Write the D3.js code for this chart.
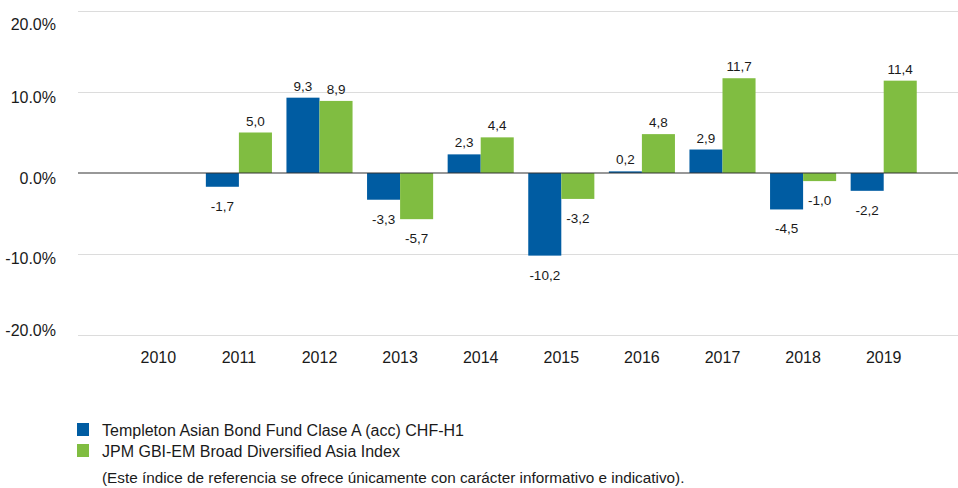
<!DOCTYPE html>
<html><head><meta charset="utf-8">
<script src="https://cdn.jsdelivr.net/npm/d3@7"></script>
<style>
body{margin:0;background:#fff;}
svg text{font-family:"Liberation Sans",Arial,sans-serif;fill:#1a1a1a;}
</style></head>
<body>
<svg id="c" width="958" height="488"></svg>
<script>
const years = ["2010","2011","2012","2013","2014","2015","2016","2017","2018","2019"];
const fund = [null,-1.7,9.3,-3.3,2.3,-10.2,0.2,2.9,-4.5,-2.2];
const index = [null,5.0,8.9,-5.7,4.4,-3.2,4.8,11.7,-1.0,11.4];
const yTicks = [20,10,0,-10,-20];
const seriesNames = ["Templeton Asian Bond Fund Clase A (acc) CHF-H1","JPM GBI-EM Broad Diversified Asia Index"];
const note = "(Este índice de referencia se ofrece únicamente con carácter informativo e indicativo).";
const colors = ["#005ca2","#80bd41"];

const svg = d3.select("#c");
const plotL = 78, plotR = 958;
const x = d3.scaleBand().domain(years).range([118,924]).paddingInner(0.18).paddingOuter(0.09);
const xs = d3.scaleBand().domain([0,1]).range([0,x.bandwidth()]);
const y = d3.scaleLinear().domain([-20,20]).range([335,11]);
const fmt = v => v.toFixed(1);

// gridlines
svg.append("g").selectAll("line").data(yTicks.filter(d=>d!==0)).join("line")
  .attr("x1",plotL).attr("x2",plotR).attr("y1",d=>y(d)+0.5).attr("y2",d=>y(d)+0.5)
  .attr("stroke","#dcdcdc").attr("stroke-width",1);

// y labels
const dyMap = {"20":19,"10":11,"0":11,"-10":10,"-20":1};
svg.append("g").selectAll("text").data(yTicks).join("text")
  .attr("x",56).attr("y",d=>y(d)+dyMap[d])
  .attr("text-anchor","end").attr("font-size",16)
  .text(d=>fmt(d)+"%");

// bars
const series = [fund,index];
series.forEach((vals,si)=>{
  const data = years.map((yr,i)=>({yr,v:vals[i]})).filter(d=>d.v!==null);
  svg.append("g").selectAll("rect").data(data).join("rect")
    .attr("x",d=>x(d.yr)+xs(si))
    .attr("width",xs.bandwidth())
    .attr("y",d=>y(Math.max(0,d.v)))
    .attr("height",d=>Math.abs(y(d.v)-y(0)))
    .attr("fill",colors[si]);
  svg.append("g").selectAll("text").data(data).join("text")
    .attr("x",d=>x(d.yr)+xs(si)+xs.bandwidth()/2)
    .attr("y",d=>d.v>=0 ? y(d.v)-7 : y(d.v)+24)
    .attr("text-anchor","middle").attr("font-size",13.5)
    .text(d=>fmt(d.v).replace(".",","));
});

// zero line
svg.append("line").attr("x1",plotL).attr("x2",plotR).attr("y1",y(0)).attr("y2",y(0))
  .attr("stroke","#333").attr("stroke-width",1.2);

// x labels
svg.append("g").selectAll("text").data(years).join("text")
  .attr("x",d=>x(d)+x.bandwidth()/2).attr("y",363)
  .attr("text-anchor","middle").attr("font-size",16).text(d=>d);

// legend
const lg = svg.append("g");
seriesNames.forEach((n,i)=>{
  lg.append("rect").attr("x",77).attr("y",423+i*21).attr("width",12).attr("height",13).attr("fill",colors[i]);
  lg.append("text").attr("x",102).attr("y",436+i*21).attr("font-size",16).text(n);
});
lg.append("text").attr("x",102).attr("y",483).attr("font-size",15.3).text(note);
</script>
</body></html>
